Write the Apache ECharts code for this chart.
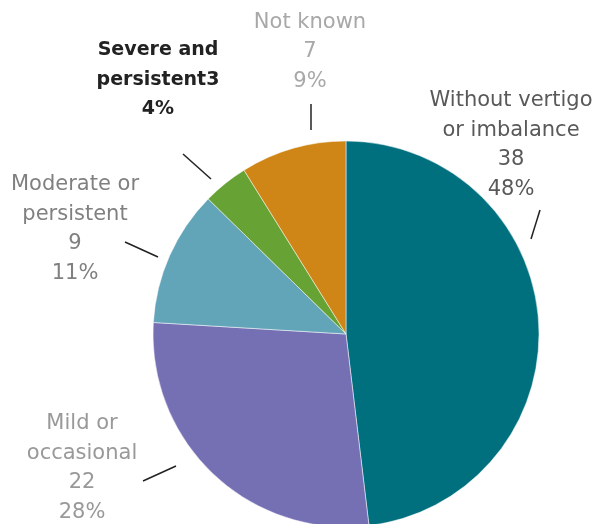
<!DOCTYPE html>
<html>
<head>
<meta charset="utf-8">
<script src="https://cdn.jsdelivr.net/npm/echarts@6/dist/echarts.min.js"></script>
<style>
html,body{margin:0;padding:0;background:#fff;}
#chart{width:614px;height:524px;}
</style>
</head>
<body>
<div id="chart"></div>
<script>
// Data
var categories = ['Without vertigo\nor imbalance', 'Mild or\noccasional', 'Moderate or\npersistent', 'Severe and\npersistent', 'Not known'];
var values = [38, 22, 9, 3, 7];

// Styles
var colors = ['#00707f', '#7570b4', '#62a4b8', '#67a234', '#cf8616'];
var textColors = ['#595959', '#999999', '#808080', '#222222', '#a8a8a8'];
var textWeights = ['normal', 'normal', 'normal', 'bold', 'normal'];
var textSizes = [21, 21, 21, 19, 21];
var labelPos = [[511, 145], [82, 468], [75, 229], [158, 80], [310, 52]];
var linePts = [
  [[531, 239], [540, 210]],
  [[176, 466], [143, 481]],
  [[158, 257], [125, 242]],
  [[211, 179], [183, 154]],
  [[311, 130], [311, 104]]
];

var data = categories.map(function (c, i) {
  return {
    name: c,
    value: values[i],
    itemStyle: { color: colors[i] },
    label: { color: textColors[i], fontWeight: textWeights[i], fontSize: textSizes[i] }
  };
});

var chart = echarts.init(document.getElementById('chart'), null, { renderer: 'canvas' });
chart.setOption({
  animation: false,
  series: [{
    type: 'pie',
    center: [346, 334],
    radius: [0, 193],
    startAngle: 90,
    clockwise: true,
    data: data,
    itemStyle: { borderColor: '#ffffff', borderWidth: 0.5 },
    label: {
      show: true,
      fontFamily: 'DejaVu Sans',
      fontSize: 21,
      lineHeight: 29.5,
      align: 'center',
      overflow: 'none',
      formatter: function (p) {
        if (p.dataIndex === 3) {
          return p.name + p.value + '\n' + Math.round(p.percent) + '%';
        }
        return p.name + '\n' + p.value + '\n' + Math.round(p.percent) + '%';
      }
    },
    labelLine: {
      show: true,
      length: 10,
      length2: 0,
      lineStyle: { color: '#222222', width: 1.5 }
    },
    labelLayout: function (params) {
      var i = params.dataIndex;
      return {
        x: labelPos[i][0],
        y: labelPos[i][1],
        align: 'center',
        verticalAlign: 'middle',
        labelLinePoints: linePts[i]
      };
    }
  }]
});
</script>
</body>
</html>
